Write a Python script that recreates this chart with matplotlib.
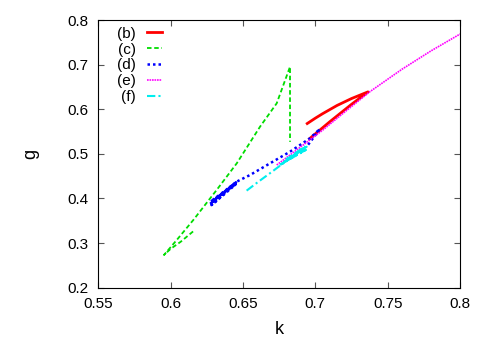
import matplotlib
matplotlib.use("Agg")
import matplotlib.pyplot as plt
from matplotlib.ticker import FormatStrFormatter, MultipleLocator

plt.rcParams["font.family"] = ["Liberation Sans", "DejaVu Sans"]

# (b) red
b_k = [0.6944, 0.700, 0.705, 0.715, 0.725, 0.7364, 0.725, 0.710, 0.696]
b_g = [0.568, 0.580, 0.590, 0.6085, 0.624, 0.639, 0.611, 0.572, 0.534]

# (c) green
c_k = [0.6155, 0.607, 0.600, 0.5954, 0.6040, 0.6157, 0.6318, 0.6457, 0.6618, 0.6733, 0.6825, 0.6825]
c_g = [0.326, 0.303, 0.287, 0.2733, 0.3060, 0.3518, 0.419, 0.4788, 0.561, 0.6133, 0.6953, 0.527]

# (d) blue
d_k = [0.6273, 0.6452, 0.6276, 0.6448, 0.6282, 0.6450, 0.6279, 0.6452, 0.6549, 0.6687,
       0.6825, 0.6963, 0.7032, 0.694]
d_g = [0.388, 0.436, 0.393, 0.431, 0.385, 0.434, 0.390, 0.437, 0.4526, 0.4788,
       0.5048, 0.5349, 0.556, 0.516]

# (e) magenta
e_k = [0.6733, 0.6871, 0.705, 0.720, 0.7377, 0.760, 0.780, 0.800]
e_g = [0.475, 0.5087, 0.553, 0.593, 0.6394, 0.690, 0.731, 0.7686]

# (f) cyan
f_k = [0.6525, 0.660, 0.668, 0.675, 0.694, 0.676, 0.6935, 0.678, 0.692, 0.680, 0.693]
f_g = [0.4175, 0.436, 0.455, 0.472, 0.516, 0.476, 0.509, 0.481, 0.513, 0.488, 0.517]

fig = plt.figure(figsize=(4.85, 3.4), dpi=100)
ax = fig.add_axes([0.2027, 0.154, 0.7458, 0.787])

ax.plot(b_k, b_g, color="#ff0000", lw=2.0, label="(b)")
ax.plot(c_k, c_g, color="#00dd00", lw=1.3, dashes=(2.5, 1.5), label="(c)")
ax.plot(d_k, d_g, color="#0000ff", lw=1.8, dashes=(1, 1.2), label="(d)")
ax.plot(e_k, e_g, color="#ff00ff", lw=1.2, dashes=(1, 0.5), label="(e)")
ax.plot(f_k, f_g, color="#00eeee", lw=1.5, dashes=(4, 1.5, 1, 1.5), label="(f)")

ax.set_xlim(0.55, 0.8)
ax.set_ylim(0.2, 0.8)
ax.xaxis.set_major_locator(MultipleLocator(0.05))
ax.yaxis.set_major_locator(MultipleLocator(0.1))
ax.xaxis.set_major_formatter(FormatStrFormatter("%g"))
ax.yaxis.set_major_formatter(FormatStrFormatter("%g"))
ax.tick_params(direction="in", length=4, width=0.8, color="#555555",
               top=True, right=True, labelsize=11, pad=7)

ax.set_xlabel("k", fontsize=13, labelpad=7)
ax.set_ylabel("g", fontsize=13, labelpad=20)

ax.legend(loc="upper right", bbox_to_anchor=(0.176, 0.975), frameon=False,
          markerfirst=False, fontsize=11, handlelength=1.0, handletextpad=0.7,
          labelspacing=0.12, borderpad=0, borderaxespad=0)

fig.savefig("out.png", dpi=100)
